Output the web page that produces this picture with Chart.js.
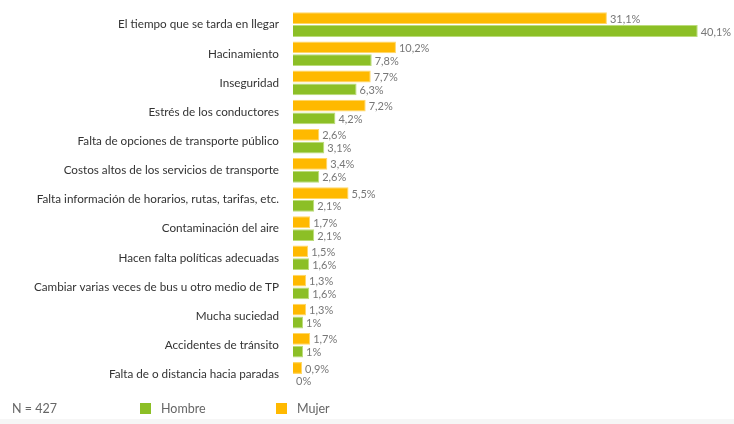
<!DOCTYPE html>
<html lang="es">
<head>
<meta charset="utf-8">
<script src="https://cdn.jsdelivr.net/npm/chart.js@4"></script>
<style>
    html, body { margin: 0; padding: 0; background: #fff; }
    body { width: 734px; height: 424px; overflow: hidden; position: relative; font-family: Lato, "Open Sans", sans-serif; }
    #wrap { position: absolute; left: 0; top: -3px; width: 734px; height: 405px; }
    .legend { position: absolute; top: 401px; font-size: 12.5px; color: #666; line-height: 16px; }
    .legend .box { display: inline-block; width: 11px; height: 11px; vertical-align: -1px; margin-right: 10px; }
    .strip { position: absolute; left: 0; bottom: 0; width: 734px; height: 5px; background: #f6f6f6; }
</style>
</head>
<body>
<div id="wrap"><canvas id="barChart" width="734" height="405"></canvas></div>
<div class="legend" style="left: 12px;">N = 427</div>
<div class="legend" style="left: 140px;"><span class="box" style="background:#8cbf26"></span>Hombre</div>
<div class="legend" style="left: 276px;"><span class="box" style="background:#ffb900"></span>Mujer</div>
<div class="strip"></div>
<script>
const categories = [
    'El tiempo que se tarda en llegar',
    'Hacinamiento',
    'Inseguridad',
    'Estrés de los conductores',
    'Falta de opciones de transporte público',
    'Costos altos de los servicios de transporte',
    'Falta información de horarios, rutas, tarifas, etc.',
    'Contaminación del aire',
    'Hacen falta políticas adecuadas',
    'Cambiar varias veces de bus u otro medio de TP',
    'Mucha suciedad',
    'Accidentes de tránsito',
    'Falta de o distancia hacia paradas'
];
const mujer = [31.1, 10.2, 7.7, 7.2, 2.6, 3.4, 5.5, 1.7, 1.5, 1.3, 1.3, 1.7, 0.9];
const hombre = [40.1, 7.8, 6.3, 4.2, 3.1, 2.6, 2.1, 2.1, 1.6, 1.6, 1, 1, 0];

const fmt = v => String(v).replace('.', ',') + '%';

// value labels at the end of each bar
const barLabels = {
    id: 'barLabels',
    afterDatasetsDraw(chart) {
        const ctx = chart.ctx;
        ctx.save();
        ctx.font = '11px Lato, "Open Sans", sans-serif';
        ctx.fillStyle = '#777';
        ctx.textBaseline = 'middle';
        chart.data.datasets.forEach((ds, i) => {
            chart.getDatasetMeta(i).data.forEach((bar, j) => {
                ctx.fillText(fmt(ds.data[j]), bar.x + 3, bar.y + 1);
            });
        });
        ctx.restore();
    }
};

new Chart(document.getElementById('barChart'), {
    type: 'bar',
    data: {
        labels: categories,
        datasets: [
            { label: 'Mujer', data: mujer, backgroundColor: '#ffb900', borderColor: '#ffd866', borderWidth: 1 },
            { label: 'Hombre', data: hombre, backgroundColor: '#8cbf26', borderColor: '#bcdc7a', borderWidth: 1 }
        ]
    },
    options: {
        indexAxis: 'y',
        responsive: false,
        animation: false,
        categoryPercentage: 0.88,
        barPercentage: 0.92,
        layout: { padding: { top: 0, bottom: 0, right: 7 } },
        plugins: {
            legend: { display: false },
            tooltip: { enabled: false }
        },
        scales: {
            x: { display: false, min: 0, max: 43 },
            y: {
                grid: { display: false },
                border: { display: false },
                ticks: {
                    color: '#333',
                    padding: 6,
                    font: { family: 'Lato, "Open Sans", sans-serif', size: 11.7 }
                },
                afterFit: scale => { scale.width = 293; }
            }
        }
    },
    plugins: [barLabels]
});
</script>
</body>
</html>
